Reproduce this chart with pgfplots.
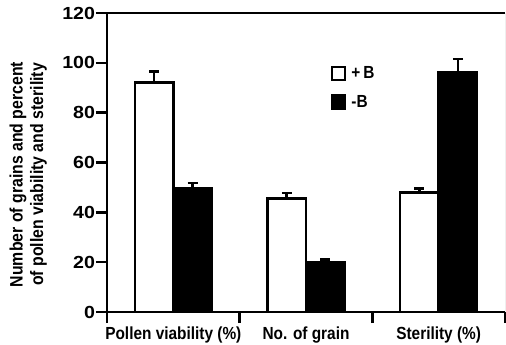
\documentclass[border=0pt]{standalone}
\usepackage{pgfplots}
\pgfplotsset{compat=1.18}
\usepackage{fontspec}
\setmainfont{Liberation Sans}[FakeStretch=0.88]
\newfontfamily\numfont{Liberation Sans}[FakeStretch=1.12]

\begin{document}
\begin{tikzpicture}
\begin{axis}[
  scale only axis,
  width=398pt, height=299pt,
  xmin=0, xmax=3, ymin=0, ymax=120,
  ytick={0,20,...,120},
  xtick={0.5,1.5,2.5},
  xticklabels={Pollen viability (\%), No. of grain, Sterility (\%)},
  minor xtick={0,1,2,3},
  axis x line*=bottom, axis y line*=left,
  axis line style={line width=2.7pt, black},
  tick style={line width=2.6pt, black},
  major x tick style={draw=none},
  tick align=outside,
  major tick length=11pt, minor tick length=11pt,
  /pgf/number format/assume math mode=true,
  xticklabel style={font=\fontsize{17.5}{20}\selectfont\bfseries},
  yticklabel style={font=\numfont\fontsize{17.5}{20}\selectfont\bfseries, xshift=2.5pt},
  ylabel={Number of grains and percent\\of pollen viability and sterility},
  ylabel style={align=center, font=\fontsize{18}{20.5}\selectfont\bfseries,
    at={(axis description cs:-0.198,0.46)}, anchor=center},
  ybar=0pt,
  bar width=0.29,
  legend style={at={(axis description cs:0.555,0.835)}, anchor=north west,
    draw=none, fill=none, font=\fontsize{17.5}{20}\selectfont\bfseries,
    row sep=11pt},
  legend cell align=left,
  legend image code/.code={\draw[#1, line width=2.4pt] (0pt,-6.5pt) rectangle (13pt,6.5pt);},
]
% +B treatment
\addplot[fill=white, draw=black, line width=2.6pt,
  error bars/.cd, y dir=plus, y explicit,
  error bar style={line width=2.6pt, black},
  error mark options={rotate=90, mark size=5pt, line width=2.6pt, black}]
  coordinates {(0.5,92) +- (0,4.5) (1.5,45.5) +- (0,2.2) (2.5,48) +- (0,1.6)};
\addlegendentry{\hspace{3pt}+\hspace{3pt}B}
% -B treatment
\addplot[fill=black, draw=black, line width=2.6pt,
  error bars/.cd, y dir=plus, y explicit,
  error bar style={line width=2.6pt, black},
  error mark options={rotate=90, mark size=5pt, line width=2.6pt, black}]
  coordinates {(0.5,49.5) +- (0,2.3) (1.5,20) +- (0,1) (2.5,96) +- (0,5.5)};
\addlegendentry{\hspace{3pt}-B}
% upper and right frame lines
\draw[line width=2.7pt] (rel axis cs:0,1) -- (rel axis cs:1,1);
\draw[line width=0.6pt, gray] (rel axis cs:1,0) -- (rel axis cs:1,1);
\end{axis}
\pgfresetboundingbox
\path ([shift={(-107pt,-33pt)}]current axis.south west)
  rectangle ([shift={(1pt,13pt)}]current axis.north east);
\end{tikzpicture}
\end{document}
